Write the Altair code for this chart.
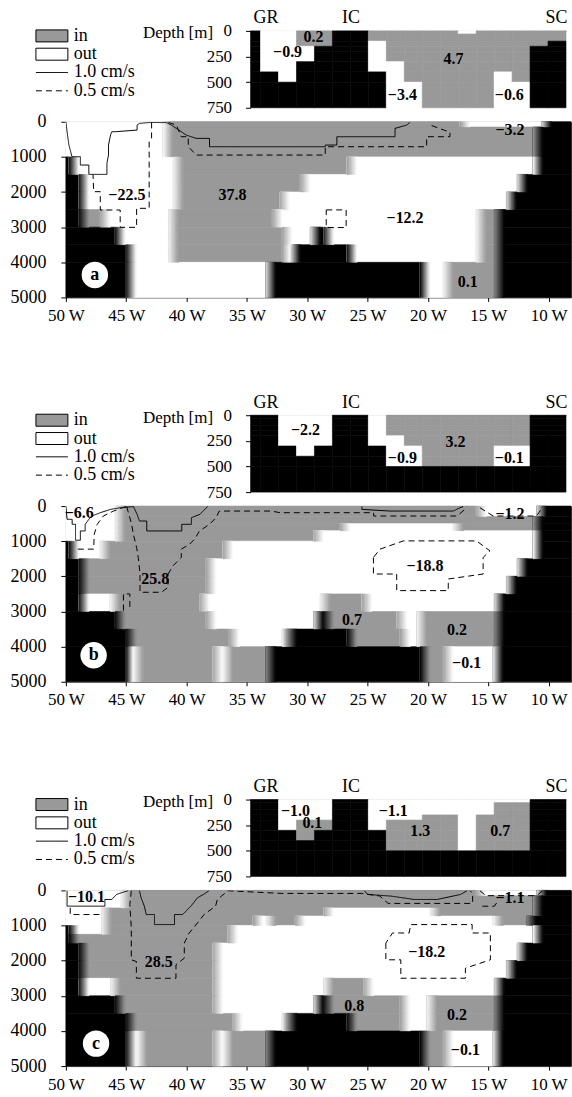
import altair as alt
import pandas as pd

FONT = "Liberation Serif"

# ---------------------------------------------------------------- categories
KINDS = ["in", "out", "bottom"]
KIND_COLORS = ["#999999", "#ffffff", "#000000"]
STYLES = ["1.0 cm/s", "0.5 cm/s"]
STYLE_DASH = [[1, 0], [6, 4]]
CODE = {"G": "in", "W": "out", "B": "bottom"}
SHADE = {"G": 153, "W": 255, "B": 0}

kind_scale = alt.Scale(domain=KINDS, range=KIND_COLORS)
dash_scale = alt.Scale(domain=STYLES, range=STYLE_DASH)

# ---------------------------------------------------------------- main section
LON_W, LON_E = -50.0, -8.15
LON_TICKS = [-50, -45, -40, -35, -30, -25, -20, -15, -10]
DEPTH_TICKS = [0, 1000, 2000, 3000, 4000, 5000]
RAMP = 0.85   # degrees over which neighbouring cells blend
NSTEP = 10

# rows: (top m, bottom m, cell kinds west->east, interior longitude edges)
ROWS_A = [
    (0, 150, "WGWB", [-41.95, -17.35, -10.6]),
    (150, 1000, "WGB", [-41.95, -11.3]),
    (1000, 1500, "BWGWB", [-49.75, -41.1, -26.72, -11.3]),
    (1500, 2000, "BWGWB", [-48.93, -41.1, -30.58, -12.6]),
    (2000, 2500, "BWGWB", [-48.93, -41.1, -32.3, -13.5]),
    (2500, 3000, "BGWGWGB", [-48.93, -47.15, -41.5, -32.9, -16.0, -14.5]),
    (3000, 3500, "BWGWBWGB", [-45.92, -41.5, -32.08, -29.75, -28.65, -16.0, -14.5]),
    (3500, 4000, "BWGWBWGB", [-45.0, -41.5, -32.08, -31.4, -26.72, -16.0, -14.5]),
    (4000, 5000, "BWBWGB", [-45.0, -33.45, -20.66, -18.73, -14.5]),
]
ROWS_B = [
    (0, 300, "WGWB", [-45.9, -16.0, -11.0]),
    (300, 500, "WGB", [-45.9, -11.3]),
    (500, 700, "WGWGB", [-45.9, -27.27, -17.9, -11.3]),
    (700, 1000, "WGWB", [-45.9, -29.48, -11.3]),
    (1000, 1500, "BWGWB", [-49.75, -47.15, -37.0, -11.3]),
    (1500, 2000, "BGWB", [-48.93, -38.38, -12.6]),
    (2000, 2500, "BGWB", [-48.93, -38.38, -13.5]),
    (2500, 3000, "BWGWGWB", [-48.93, -46.33, -38.93, -28.92, -25.48, -14.5]),
    (3000, 3500, "BGWBGWGB", [-45.92, -38.38, -29.48, -28.65, -22.59, -20.93, -14.5]),
    (3500, 4000, "BGWGBGWGB", [-45.0, -36.47, -32.08, -31.68, -26.72, -22.31, -20.93, -14.5]),
    (4000, 5000, "BWGWGBGWB", [-45.0, -44.4, -37.84, -37.0, -33.45, -20.66, -18.73, -14.6]),
]
ROWS_C = [
    (0, 150, "WGWB", [-45.41, -16.0, -11.0]),
    (150, 500, "WGB", [-45.41, -11.3]),
    (500, 730, "WGWGB", [-47.05, -28.65, -19.8, -11.3]),
    (730, 1000, "WGWGWGB", [-47.05, -34.5, -33.4, -31.0, -14.6, -11.84]),
    (1000, 1250, "BWGWB", [-49.75, -47.05, -36.6, -11.3]),
    (1250, 1500, "BGWB", [-49.75, -36.6, -11.3]),
    (1500, 2000, "BGWB", [-48.93, -37.84, -12.6]),
    (2000, 2500, "BGWB", [-48.93, -37.84, -13.5]),
    (2500, 3000, "BWGWGWB", [-48.93, -46.3, -37.84, -28.65, -25.34, -14.5]),
    (3000, 3500, "BGWBGWGB", [-45.92, -37.84, -29.48, -28.65, -22.31, -20.1, -14.5]),
    (3500, 4000, "BGWGBGWGB", [-45.0, -36.2, -32.08, -31.68, -26.72, -22.31, -20.1, -14.5]),
    (4000, 5000, "BWGWGBGWB", [-45.0, -44.1, -37.84, -37.0, -33.45, -20.66, -18.73, -14.6]),
]

# velocity isolines: (style, [(lon, depth), ...])
LINES_A = [
    ("1.0 cm/s", [(-50, 0), (-49.9, 284), (-49.75, 664), (-49.6, 853), (-49.5, 995), (-48.8, 995),
                  (-48.8, 1232), (-48.1, 1232), (-48.1, 1498), (-46.6, 1498), (-46.6, 1185),
                  (-46.47, 948), (-46.47, 664), (-46.3, 379), (-46.2, 284), (-45.9, 284),
                  (-44.1, 237), (-44.1, 95), (-43.9, 47), (-43.0, 20)]),
    ("1.0 cm/s", [(-43.0, 20), (-41.67, 25), (-41.26, 95), (-40.85, 190), (-40.44, 284),
                  (-40.03, 379), (-39.2, 474), (-38.1, 474), (-38.1, 711), (-28.51, 711),
                  (-28.51, 663), (-27.55, 663), (-27.55, 426), (-22.73, 426), (-22.73, 189),
                  (-21.76, 95), (-21.5, 20)]),
    ("0.5 cm/s", [(-41.5, 20), (-40.85, 95), (-40.44, 426), (-39.86, 426), (-39.86, 711),
                  (-39.2, 948), (-28.51, 948), (-28.51, 711), (-20.11, 711), (-20.11, 426),
                  (-18.18, 426), (-18.18, 300), (-19.8, 95), (-19.8, 20)]),
    ("0.5 cm/s", [(-42.9, 20), (-42.9, 474), (-43.1, 569), (-43.1, 2464), (-44.14, 2464),
                  (-44.14, 3005), (-45.5, 3005), (-45.5, 2512), (-47.15, 2512), (-47.15, 1990),
                  (-47.7, 1990), (-47.75, 1500)]),
    ("0.5 cm/s", [(-28.43, 2509), (-26.78, 2509), (-26.78, 3011), (-28.43, 3011), (-28.43, 2509)]),
]
LINES_B = [
    ("1.0 cm/s", [(-50, 0), (-49.9, 377), (-49.48, 377), (-49.48, 519), (-49.2, 519), (-49.2, 972),
                  (-48.8, 972), (-48.8, 708), (-48.4, 708), (-48.4, 519), (-48.1, 377),
                  (-47.85, 283), (-47.15, 189), (-46.3, 94), (-45.5, 47), (-44.4, 15)]),
    ("1.0 cm/s", [(-44.4, 15), (-44.1, 236), (-43.9, 425), (-43.3, 425), (-43.3, 708), (-40.4, 708),
                  (-40.4, 519), (-39.6, 519), (-39.6, 330), (-38.9, 236), (-38.5, 94), (-38.25, 15)]),
    ("0.5 cm/s", [(-44.96, 15), (-44.82, 189), (-44.55, 519), (-44.41, 802), (-44.14, 1179),
                  (-44.0, 1462), (-43.86, 1934), (-43.86, 2453), (-42.08, 2453), (-41.53, 2311),
                  (-41.53, 1934), (-41.12, 1698), (-40.44, 1462), (-40.44, 1226), (-39.75, 1085),
                  (-39.34, 943), (-38.93, 708), (-38.1, 519), (-37.56, 330), (-37.29, 142),
                  (-33.0, 142), (-32.23, 189), (-24.5, 189), (-24.5, 283), (-17.6, 283),
                  (-17.1, 142), (-16.8, 15)]),
    ("0.5 cm/s", [(-45.23, 2972), (-45.23, 2500), (-44.7, 2500), (-44.7, 2972)]),
    ("0.5 cm/s", [(-49.01, 1226), (-47.7, 1226), (-47.65, 802), (-47.4, 519), (-46.9, 283),
                  (-46.05, 142), (-45.3, 47), (-45.0, 15)]),
    ("1.0 cm/s", [(-25.48, 15), (-25.48, 94), (-23.14, 142), (-17.9, 142), (-17.35, 47), (-17.08, 15)]),
    ("0.5 cm/s", [(-24.52, 1462), (-24.52, 1934), (-22.59, 1934), (-22.59, 2406), (-18.32, 2406),
                  (-18.32, 2075), (-15.43, 1934), (-15.43, 1462), (-14.87, 1274), (-15.98, 991),
                  (-22.04, 991), (-23.97, 1226), (-24.52, 1462)]),
    ("0.5 cm/s", [(-15.7, 47), (-14.6, 283), (-11.0, 283), (-10.47, 15)]),
]
LINES_C = [
    ("1.0 cm/s", [(-49.9, 10), (-49.9, 448), (-46.77, 448), (-46.77, 258), (-46.2, 258),
                  (-45.8, 115), (-45.4, 67), (-44.85, 10)]),
    ("0.5 cm/s", [(-49.64, 496), (-49.64, 687), (-46.9, 687)]),
    ("1.0 cm/s", [(-43.9, 10), (-43.77, 210), (-43.5, 448), (-43.34, 687), (-42.66, 687),
                  (-42.66, 973), (-41.0, 973), (-41.0, 687), (-40.33, 687), (-39.64, 448),
                  (-39.1, 210), (-38.6, 115), (-38.14, 10)]),
    ("0.5 cm/s", [(-44.58, 10), (-44.7, 400), (-44.58, 1069), (-44.58, 1975), (-44.16, 2023),
                  (-44.16, 2500), (-40.88, 2500), (-40.88, 2118), (-40.19, 1927), (-40.19, 1498),
                  (-39.78, 1212), (-39.1, 926), (-38.55, 687), (-37.6, 448), (-37.45, 258),
                  (-36.77, 67), (-36.6, 10)]),
    ("1.0 cm/s", [(-25.27, 10), (-25.0, 115), (-23.07, 162), (-21.15, 258), (-19.23, 258),
                  (-17.3, 115), (-16.76, 10)]),
    ("0.5 cm/s", [(-36.6, 10), (-32.14, 86), (-25.5, 86), (-24.0, 160), (-23.3, 370),
                  (-16.3, 370), (-16.3, 100), (-16.5, 10)]),
    ("0.5 cm/s", [(-15.5, 450), (-14.5, 450), (-14.2, 300)]),
    ("0.5 cm/s", [(-23.49, 1498), (-23.49, 1975), (-22.25, 1975), (-22.25, 2500), (-16.9, 2500),
                  (-16.9, 2214), (-14.83, 1975), (-14.83, 1212), (-16.34, 1212), (-16.34, 973),
                  (-21.43, 973), (-21.56, 1212), (-22.94, 1212), (-23.49, 1498)]),
    ("0.5 cm/s", [(-15.7, 10), (-15.2, 150), (-11.0, 150), (-10.5, 10)]),
]

# transports (Sv) written inside the section
TEXT_A = [(-44.95, 2085, "−22.5"), (-36.2, 2085, "37.8"), (-21.9, 2750, "−12.2"),
          (-16.7, 4550, "0.1"), (-13.2, 240, "−3.2")]
TEXT_B = [(-48.9, 190, "−6.6"), (-42.6, 2075, "25.8"), (-20.25, 1700, "−18.8"),
          (-26.3, 3255, "0.7"), (-17.6, 3540, "0.2"), (-16.8, 4480, "−0.1"), (-13.2, 235, "−1.2")]
TEXT_C = [(-48.3, 190, "−10.1"), (-42.3, 2040, "28.5"), (-20.1, 1740, "−18.2"),
          (-26.1, 3280, "0.8"), (-17.6, 3550, "0.2"), (-16.9, 4550, "−0.1"), (-13.2, 210, "−1.1")]
PANEL_TAG = {"a": (-47.6, 4360), "b": (-47.7, 4245), "c": (-47.5, 4360)}

# ---------------------------------------------------------------- ridge section
# columns between Greenland (GR), Iceland (IC) and Scotland (SC)
COL_EDGES = [0.0] + [10 / 18 + k for k in range(18)]
LEVELS = [0, 30, 100, 150, 200, 300, 400, 500, 750]
COLS_A = ["BBBBBBBB", "WWWWWWBB", "WWWWWWWB", "GGGWWBBB", "GGGBBBBB", "BBBBBBBB",
          "BBBBBBBB", "GGWWWWBB", "GGGGGWWW", "GGGGGGGW", "GGGGGGGG", "GGGGGGGG",
          "WGGGGGGG", "GGGGGGGG", "GGGGGGWW", "GGGGGGGW", "GGGBBBBB", "GGBBBBBB"]
COLS_B = ["BBBBBBBB", "BBBBBBBB", "WWWWWBBB", "WWWWWWBB", "WWWWWBBB", "BBBBBBBB",
          "BBBBBBBB", "WWWWWBBB", "GGGGWWWB", "GGGGGWWB", "GGGGGGGB", "GGGGGGGB",
          "GGGGGGGB", "GGGGGGGB", "GGGGGWWB", "GGGGGWWB", "BBBBBBBB", "BBBBBBBB"]
COLS_C = ["BBBBBBBB", "BBBBBBBB", "WWWWWBBB", "WWWWGGBB", "WWWWGBBB", "BBBBBBBB",
          "BBBBBBBB", "WWWWWBBB", "WWWWGGGB", "WWWWGGGB", "WWWGGGGB", "WWWGGGGB",
          "WWWWWWWB", "WWWGGGGB", "WGGGGGGB", "WGGGGGGB", "BBBBBBBB", "BBBBBBBB"]
RIDGE_TEXT_A = [(2.06, 202, "−0.9"), (3.5, 56, "0.2"), (11.3, 270, "4.7"),
                (8.45, 622, "−3.4"), (14.4, 622, "−0.6")]
RIDGE_TEXT_B = [(3.06, 143, "−2.2"), (11.4, 260, "3.2"), (8.45, 417, "−0.9"), (14.4, 417, "−0.1")]
RIDGE_TEXT_C = [(2.5, 114, "−1.0"), (3.44, 231, "0.1"), (7.94, 114, "−1.1"),
                (9.44, 310, "1.3"), (13.9, 310, "0.7")]
SITE_NAMES = ["GR", "IC", "SC"]
SITE_POS = [0.83, 5.56, 17.0]
RIDGE_TICKS = [0, 250, 500, 750]

LEGEND_ITEMS = ["in", "out", "1.0 cm/s", "0.5 cm/s"]

# ---------------------------------------------------------------- layout (pixels, main-plot frame)
MAIN_W, MAIN_H = 506, 176
RIDGE_X = [185, 501]     # ridge inset sits above the main section, to the right
RIDGE_Y = [-91, -14]
KEY_Y = [-86, -31]


def hexgray(v):
    return "#{0:02x}{0:02x}{0:02x}".format(int(round(v)))


def section_tables(rows):
    cells, ramps = [], []
    for top, bottom, kinds, edges in rows:
        b = [LON_W] + edges + [LON_E]
        for k, ch in enumerate(kinds):
            cells.append(dict(lon0=b[k], lon1=b[k + 1], d0=top, d1=bottom, kind=CODE[ch]))
        for k in range(len(kinds) - 1):
            s0, s1 = SHADE[kinds[k]], SHADE[kinds[k + 1]]
            e = b[k + 1]
            w = min(RAMP, b[k + 2] - e)
            for j in range(NSTEP):
                f = (j + 0.5) / NSTEP
                ramps.append(dict(lon0=e + w * j / NSTEP, lon1=e + w * (j + 1) / NSTEP,
                                  d0=top, d1=bottom, shade=hexgray(s0 + (s1 - s0) * f)))
    return pd.DataFrame(cells), pd.DataFrame(ramps)


def line_table(lines):
    recs = []
    for n, (style, pts) in enumerate(lines):
        for i, (lon, dep) in enumerate(pts):
            recs.append(dict(line=n, style=style, i=i, lon=lon, depth=dep))
    return pd.DataFrame(recs)


def main_layers(rows, lines, texts, tag):
    cells, ramps = section_tables(rows)
    xs = alt.Scale(domain=[LON_W, LON_E], nice=False, zero=False)
    ys = alt.Scale(domain=[0, 5000], reverse=True, nice=False, zero=False)
    x_axis = alt.Axis(values=LON_TICKS, labelExpr="(-datum.value) + ' W'", domain=False,
                      tickSize=4, labelPadding=6, labelFlush=False, labelOverlap=False,
                      grid=False, labelFontSize=17, orient="bottom")
    y_axis = alt.Axis(values=DEPTH_TICKS, format="d", domain=False, tickSize=5, labelPadding=15,
                      minExtent=60, grid=False, labelFontSize=18, labelFlush=False,
                      labelOverlap=False, orient="left")

    cell_layer = alt.Chart(cells).mark_rect(strokeWidth=0.6).encode(
        x=alt.X("lon0:Q", scale=xs, axis=x_axis, title=None),
        x2="lon1:Q",
        y=alt.Y("d0:Q", scale=ys, axis=y_axis, title=None),
        y2="d1:Q",
        fill=alt.Fill("kind:N", scale=kind_scale, legend=None),
        stroke=alt.Stroke("kind:N", scale=kind_scale, legend=None),
    )
    ramp_layer = alt.Chart(ramps).mark_rect(strokeWidth=0.4).encode(
        x=alt.X("lon0:Q", scale=xs, axis=None), x2="lon1:Q",
        y=alt.Y("d0:Q", scale=ys, axis=None), y2="d1:Q",
        fill=alt.Fill("shade:N", scale=None),
        stroke=alt.Stroke("shade:N", scale=None),
    )
    line_layer = alt.Chart(line_table(lines)).mark_line(color="black", strokeWidth=1, clip=True).encode(
        x=alt.X("lon:Q", scale=xs, axis=None),
        y=alt.Y("depth:Q", scale=ys, axis=None),
        detail="line:N",
        order="i:Q",
        strokeDash=alt.StrokeDash("style:N", scale=dash_scale, legend=None),
    )
    tdf = pd.DataFrame(texts, columns=["lon", "depth", "label"])
    text_layer = alt.Chart(tdf).mark_text(font=FONT, fontSize=16, fontWeight="bold", color="black").encode(
        x=alt.X("lon:Q", scale=xs, axis=None),
        y=alt.Y("depth:Q", scale=ys, axis=None),
        text="label:N",
    )
    tg = pd.DataFrame([dict(lon=PANEL_TAG[tag][0], depth=PANEL_TAG[tag][1], label=tag)])
    tag_dot = alt.Chart(tg).mark_circle(size=700, color="white", opacity=1).encode(
        x=alt.X("lon:Q", scale=xs, axis=None), y=alt.Y("depth:Q", scale=ys, axis=None))
    tag_txt = alt.Chart(tg).mark_text(font=FONT, fontSize=18, fontWeight="bold", color="black").encode(
        x=alt.X("lon:Q", scale=xs, axis=None), y=alt.Y("depth:Q", scale=ys, axis=None),
        text="label:N")
    return [cell_layer, ramp_layer, line_layer, text_layer, tag_dot, tag_txt]


def ridge_layers(cols, texts):
    recs = []
    for c, col in enumerate(cols):
        for r, ch in enumerate(col):
            recs.append(dict(u0=COL_EDGES[c], u1=COL_EDGES[c + 1], d0=LEVELS[r], d1=LEVELS[r + 1],
                             kind=CODE[ch]))
    df = pd.DataFrame(recs)
    xs = alt.Scale(domain=[0, COL_EDGES[-1]], range=RIDGE_X, nice=False, zero=False)
    ys = alt.Scale(domain=[0, 750], range=RIDGE_Y, nice=False, zero=False)
    mids = [(SITE_POS[i] + SITE_POS[i + 1]) / 2 for i in range(len(SITE_POS) - 1)]
    expr = "'" + SITE_NAMES[-1] + "'"
    for m, name in reversed(list(zip(mids, SITE_NAMES[:-1]))):
        expr = f"datum.value < {m:.3f} ? '{name}' : " + expr
    x_axis = alt.Axis(orient="top", offset=-RIDGE_Y[0], values=SITE_POS, labelExpr=expr,
                      ticks=False, domain=True, domainColor="#777777", labelPadding=4,
                      labelFlush=False, labelOverlap=False, grid=False, labelFontSize=18)
    y_axis = alt.Axis(orient="left", offset=-RIDGE_X[0], values=RIDGE_TICKS, domain=False,
                      tickSize=5, labelPadding=14, grid=False, labelFontSize=17,
                      title="Depth [m]", titleAngle=0, titleAlign="right", titleBaseline="middle",
                      titleX=-38, titleY=RIDGE_Y[0] + 2, titleFontSize=17, titleFontWeight="normal",
                      labelFlush=False, labelOverlap=False, minExtent=0)
    cells = alt.Chart(df).mark_rect(strokeWidth=0.6).encode(
        x=alt.X("u0:Q", scale=xs, axis=x_axis, title=None), x2="u1:Q",
        y=alt.Y("d0:Q", scale=ys, axis=y_axis), y2="d1:Q",
        fill=alt.Fill("kind:N", scale=kind_scale, legend=None),
        stroke=alt.Stroke("kind:N", scale=kind_scale, legend=None),
    )
    tdf = pd.DataFrame(texts, columns=["u", "depth", "label"])
    labels = alt.Chart(tdf).mark_text(font=FONT, fontSize=16, fontWeight="bold", color="black").encode(
        x=alt.X("u:Q", scale=xs, axis=None), y=alt.Y("depth:Q", scale=ys, axis=None), text="label:N")
    return [cells, labels]


def key_layers():
    ly = alt.Scale(type="point", domain=LEGEND_ITEMS, range=KEY_Y, padding=0)
    boxes = pd.DataFrame({"item": LEGEND_ITEMS[:2], "kind": LEGEND_ITEMS[:2]})
    strokes = pd.DataFrame({"item": LEGEND_ITEMS[2:], "style": LEGEND_ITEMS[2:]})
    names = pd.DataFrame({"item": LEGEND_ITEMS})
    box = alt.Chart(boxes).mark_point(shape="M-1,-0.375H1V0.375H-1Z", size=1024, filled=True,
                                      stroke="black", strokeWidth=1, opacity=1).encode(
        x=alt.value(-14), y=alt.Y("item:N", scale=ly, axis=None),
        fill=alt.Fill("kind:N", scale=kind_scale, legend=None))
    rule = alt.Chart(strokes).mark_rule(color="black", strokeWidth=1).encode(
        x=alt.value(-30), x2=alt.value(2), y=alt.Y("item:N", scale=ly, axis=None),
        strokeDash=alt.StrokeDash("style:N", scale=dash_scale, legend=None))
    txt = alt.Chart(names).mark_text(font=FONT, fontSize=18, align="left", baseline="middle",
                                     color="black").encode(
        x=alt.value(8), y=alt.Y("item:N", scale=ly, axis=None), text="item:N")
    return [box, rule, txt]


def panel(rows, lines, texts, tag, cols, ridge_texts):
    layers = main_layers(rows, lines, texts, tag) + ridge_layers(cols, ridge_texts) + key_layers()
    return alt.layer(*layers).resolve_scale(x="independent", y="independent").resolve_axis(
        x="independent", y="independent"
    ).properties(width=MAIN_W, height=MAIN_H,
                 view=alt.ViewBackground(stroke="#444444", strokeWidth=1))


chart = alt.vconcat(
    panel(ROWS_A, LINES_A, TEXT_A, "a", COLS_A, RIDGE_TEXT_A),
    panel(ROWS_B, LINES_B, TEXT_B, "b", COLS_B, RIDGE_TEXT_B),
    panel(ROWS_C, LINES_C, TEXT_C, "c", COLS_C, RIDGE_TEXT_C),
    spacing=68,
).properties(
    padding={"left": 5, "top": 7, "right": 0, "bottom": 0},
    background="white",
).configure_view(stroke=None).configure_axis(
    labelFont=FONT, titleFont=FONT, labelColor="black", titleColor="black", tickColor="black",
    labelOverlap=False,
)

chart.save("out.html", embed_options={"renderer": "svg", "actions": False})
